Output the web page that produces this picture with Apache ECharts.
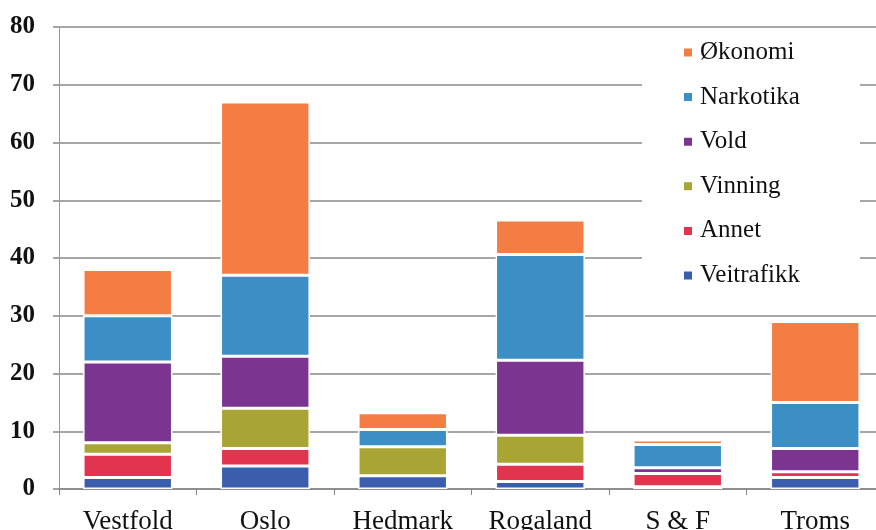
<!DOCTYPE html>
<html>
<head>
<meta charset="utf-8">
<script src="https://cdn.jsdelivr.net/npm/echarts@6/dist/echarts.min.js"></script>
<style>
  html, body { margin: 0; padding: 0; background: #fff; }
  #chart { width: 876px; height: 530px; }
</style>
</head>
<body>
<div id="chart"></div>
<script>
// categories (regions) and crime types, stacked bottom to top
const regions = ['Vestfold', 'Oslo', 'Hedmark', 'Rogaland', 'S & F', 'Troms']
const veitrafikk = [2, 4, 2.3, 1.3, 0.4, 2]
const annet = [4, 3, 0, 3, 2.3, 1]
const vinning = [2, 7, 5, 5, 0, 0]
const vold = [14, 9, 0, 13, 1, 4]
const narkotika = [8, 14, 3, 18.3, 4, 8]
const okonomi = [8, 30, 2.9, 6, 0.8, 14]
const yTicks = [0, 10, 20, 30, 40, 50, 60, 70, 80]

const seriesDefs = [
  { name: 'Veitrafikk', data: veitrafikk, color: '#3A5DAE' },
  { name: 'Annet', data: annet, color: '#E2334F' },
  { name: 'Vinning', data: vinning, color: '#A9A535' },
  { name: 'Vold', data: vold, color: '#7B3590' },
  { name: 'Narkotika', data: narkotika, color: '#3B8FC5' },
  { name: 'Økonomi', data: okonomi, color: '#F47D44' },
]

const font = 'Liberation Serif'

const option = {
  animation: false,
  backgroundColor: '#fff',
  grid: {
    left: 59,
    top: 27,
    width: 825,
    height: 462,
    outerBoundsMode: 'none',
  },
  legend: {
    data: seriesDefs.map(s => s.name).reverse(),
    orient: 'vertical',
    left: 642,
    top: 32,
    padding: [8, 60, 8, 40],
    backgroundColor: '#fff',
    itemWidth: 10,
    itemHeight: 10,
    itemGap: 19.6,
    icon: 'rect',
    textStyle: {
      fontFamily: font,
      fontSize: 25,
      lineHeight: 25,
      color: '#111',
      padding: [0, 0, 0, 2],
    },
  },
  xAxis: {
    type: 'category',
    data: regions,
    axisLine: { lineStyle: { color: '#888', width: 1.5 } },
    axisTick: { show: true, length: 6, lineStyle: { color: '#888' } },
    axisLabel: {
      fontFamily: font,
      fontSize: 27,
      color: '#111',
      margin: 19,
    },
  },
  yAxis: {
    type: 'value',
    min: yTicks[0],
    max: yTicks[yTicks.length - 1],
    interval: 10,
    axisLine: { show: true, lineStyle: { color: '#999', width: 1 } },
    axisTick: { show: true, length: 6, lineStyle: { color: '#888', width: 1.5 } },
    splitLine: { lineStyle: { color: '#888', width: 1.5 } },
    axisLabel: {
      fontFamily: font,
      fontSize: 25,
      fontWeight: 'bold',
      color: '#111',
      margin: 24,
      padding: [4, 0, 0, 0],
    },
  },
  series: seriesDefs.map(s => ({
    name: s.name,
    type: 'bar',
    stack: 'total',
    data: s.data,
    barWidth: '65%',
    itemStyle: {
      color: s.color,
      borderColor: '#fff',
      borderWidth: 1.5,
    },
  })),
}

const myChart = echarts.init(document.getElementById('chart'))
myChart.setOption(option)
</script>
</body>
</html>
